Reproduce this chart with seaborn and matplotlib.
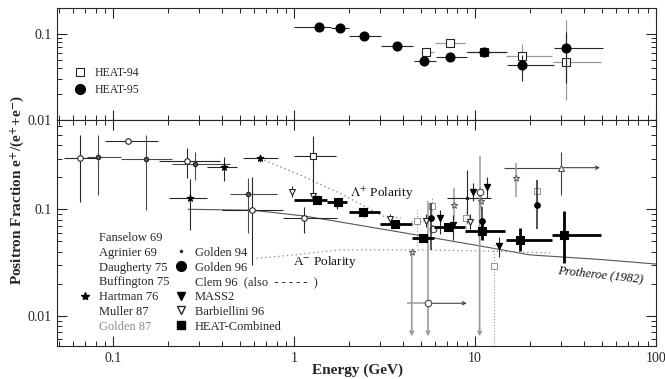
import pandas as pd
import seaborn as sns
import matplotlib.pyplot as plt
from matplotlib.lines import Line2D
from matplotlib.ticker import FixedLocator, FuncFormatter, LogLocator, NullFormatter

# rows: [energy, fraction, energy_lo, energy_hi, fraction_lo, fraction_hi]
heat94 = [
    [5.37, 0.0613, 5.15, 5.94, 0.0613, 0.0613],
    [7.23, 0.0792, 6.0, 8.8, 0.0792, 0.0792],
    [11.2, 0.0623, 8.9, 14.8, 0.060, 0.065],
    [18.2, 0.0559, 14.9, 26.5, 0.046, 0.0765],
    [32.0, 0.0469, 27.0, 49.5, 0.017, 0.145],
]
heat95 = [
    [1.37, 0.1216, 1.0, 1.6, 0.1216, 0.1216],
    [1.79, 0.116, 1.6, 2.0, 0.116, 0.116],
    [2.43, 0.0948, 2.02, 3.04, 0.0948, 0.0948],
    [3.72, 0.0725, 3.04, 4.57, 0.0725, 0.0725],
    [5.25, 0.0485, 4.62, 6.07, 0.044, 0.054],
    [7.26, 0.0545, 6.07, 9.0, 0.051, 0.058],
    [11.2, 0.0623, 9.0, 15.0, 0.058, 0.066],
    [18.2, 0.0436, 15.0, 27.4, 0.028, 0.057],
    [32.0, 0.0693, 27.4, 51.0, 0.027, 0.106],
]

fanselow69 = [
    [0.066, 0.305, 0.0535, 0.082, 0.118, 0.499],
    [0.121, 0.438, 0.0897, 0.177, 0.41, 0.47],
    [0.256, 0.284, 0.179, 0.392, 0.196, 0.374],
    [0.584, 0.098, 0.40, 0.87, 0.030, 0.202],
    [1.136, 0.0823, 0.873, 1.73, 0.0595, 0.106],
]
daugherty75 = [
    [0.0823, 0.307, 0.072, 0.11, 0.136, 0.499],
    [0.153, 0.295, 0.11, 0.212, 0.0985, 0.499],
    [0.285, 0.266, 0.212, 0.443, 0.188, 0.347],
    [0.559, 0.139, 0.44, 0.803, 0.06, 0.196],
]
agrinier69 = [
    [1.27, 0.317, 1.0, 1.71, 0.136, 0.488],
]
buffington75 = [
    [29.8, 0.246, 14.5, 29.8, 0.136, 0.348],
]
hartman76 = [
    [0.265, 0.127, 0.203, 0.33, 0.064, 0.191],
    [0.409, 0.248, 0.33, 0.485, 0.186, 0.308],
    [0.649, 0.301, 0.525, 0.819, 0.28, 0.32],
]
muller87 = [
    [5.5, 0.0131, 4.19, 5.5, 0.0131, 0.12],
    [5.88, 0.0653, 5.88, 5.88, 0.060, 0.071],
    [10.6, 0.146, 10.6, 10.6, 0.146, 0.32],
]
golden87 = [
    [4.47, 0.0397, 4.47, 4.47, 0.0397, 0.0397],
    [7.67, 0.110, 7.67, 7.67, 0.079, 0.159],
    [10.8, 0.120, 10.8, 10.8, 0.10, 0.14],
    [16.9, 0.198, 16.9, 16.9, 0.13, 0.27],
]
golden94 = [
    [9.0, 0.128, 7.0, 12.3, 0.074, 0.234],
]
golden96 = [
    [5.71, 0.0823, 5.71, 5.71, 0.0415, 0.115],
    [10.9, 0.078, 10.9, 10.9, 0.058, 0.105],
    [22.0, 0.110, 22.0, 22.0, 0.065, 0.188],
]
clem96 = [
    [4.8, 0.0782, 4.4, 5.2, 0.045, 0.098],
    [5.75, 0.107, 5.5, 6.0, 0.08, 0.13],
    [8.9, 0.082, 8.6, 9.3, 0.06, 0.10],
    [12.7, 0.0292, 12.7, 12.7, 0.0052, 0.048],
    [21.9, 0.148, 21.9, 21.9, 0.12, 0.19],
]
mass2 = [
    [6.4, 0.0823, 6.4, 6.4, 0.058, 0.098],
    [7.6, 0.0712, 7.6, 7.6, 0.052, 0.088],
    [9.7, 0.146, 9.7, 9.7, 0.12, 0.175],
    [11.7, 0.163, 11.7, 11.7, 0.128, 0.20],
    [13.5, 0.0452, 13.5, 13.5, 0.036, 0.055],
]
barbiellini96 = [
    [0.97, 0.146, 0.97, 0.97, 0.13, 0.165],
    [1.28, 0.133, 1.28, 1.28, 0.12, 0.15],
    [1.72, 0.112, 1.72, 1.72, 0.10, 0.125],
    [2.42, 0.0917, 2.42, 2.42, 0.085, 0.10],
    [3.39, 0.0806, 3.39, 3.39, 0.074, 0.09],
    [5.34, 0.0775, 5.34, 5.34, 0.068, 0.09],
    [9.38, 0.0765, 9.38, 9.38, 0.065, 0.09],
]
heat_combined = [
    [1.335, 0.121, 1.0, 1.52, 0.113, 0.13],
    [1.75, 0.116, 1.52, 1.95, 0.109, 0.124],
    [2.4, 0.094, 2.0, 2.98, 0.088, 0.10],
    [3.6, 0.073, 2.98, 4.46, 0.068, 0.078],
    [5.13, 0.0534, 4.46, 5.94, 0.049, 0.058],
    [7.13, 0.0686, 5.94, 8.8, 0.063, 0.075],
    [10.9, 0.0626, 8.8, 14.6, 0.052, 0.075],
    [17.7, 0.0515, 14.8, 26.5, 0.0408, 0.0663],
    [31.0, 0.0574, 26.5, 49.5, 0.0315, 0.097],
]
# limits drawn as arrows: [energy, fraction_from, fraction_to] and [fraction, energy_from, energy_to]
down_arrows = [[4.47, 0.0397, 0.0064], [5.5, 0.0131, 0.0064], [10.6, 0.146, 0.0064]]
right_arrows = [[0.0131, 5.5, 9.0], [0.246, 29.8, 49.0]]

# model curves
protheroe_e = [0.26, 0.59, 1.14, 1.8, 3.85, 10.1, 20.1, 49.0, 100.0]
protheroe_f = [0.100, 0.098, 0.0865, 0.076, 0.061, 0.046, 0.0373, 0.0338, 0.0306]
lam_plus_e = [0.65, 1.08, 1.8, 3.1, 3.9]
lam_plus_f = [0.30, 0.21, 0.141, 0.0865, 0.083]
lam_minus_e = [0.62, 1.0, 1.8, 4.4, 10.6, 26.0]
lam_minus_f = [0.0346, 0.0373, 0.0416, 0.0416, 0.0407, 0.0389]

cols = ['e', 'f', 'e_lo', 'e_hi', 'f_lo', 'f_hi']
DARK = '#262626'
GRAY = '#9a9a9a'

sns.set_style('ticks')
plt.rcParams['font.family'] = ['Liberation Serif', 'DejaVu Serif']
plt.rcParams['mathtext.fontset'] = 'stix'
plt.rcParams['axes.linewidth'] = 0.8


def draw_set(ax, rows, marker, size, face, edge, ecolor, elw=0.8, ls='-', z=3):
    df = pd.DataFrame(rows, columns=cols)
    eb = ax.errorbar(df.e, df.f, xerr=[df.e - df.e_lo, df.e_hi - df.e],
                     yerr=[df.f - df.f_lo, df.f_hi - df.f], fmt='none',
                     ecolor=ecolor, elinewidth=elw, capsize=0, zorder=z)
    for lc in eb[2]:
        lc.set_linestyle(ls)
    if marker is not None:
        sns.scatterplot(data=df, x='e', y='f', marker=marker, s=size, color=face,
                        edgecolor=edge, linewidth=0.8, ax=ax, zorder=z + 1, legend=False)


fig = plt.figure(figsize=(6.65, 3.79), dpi=100)
ax_top = fig.add_axes([0.0857, 0.6834, 0.9008, 0.2955])
ax_bot = fig.add_axes([0.0857, 0.0871, 0.9008, 0.5963])

for ax in (ax_top, ax_bot):
    ax.set_xscale('log')
    ax.set_yscale('log')
    ax.set_xlim(0.049, 100)
    ax.tick_params(which='both', direction='in', top=True, right=True, colors=DARK,
                   labelsize=10, pad=4)
    ax.tick_params(which='major', length=7, width=0.8)
    ax.tick_params(which='minor', length=3.5, width=0.7)
    ax.yaxis.set_major_locator(FixedLocator([0.01, 0.1]))
    ax.yaxis.set_minor_locator(LogLocator(base=10, subs=range(2, 10)))
    ax.yaxis.set_minor_formatter(NullFormatter())
    ax.yaxis.set_major_formatter(FuncFormatter(lambda v, _: f'{v:g}'))
    ax.xaxis.set_major_locator(FixedLocator([0.1, 1, 10, 100]))
    ax.xaxis.set_minor_locator(LogLocator(base=10, subs=range(2, 10)))
    ax.xaxis.set_minor_formatter(NullFormatter())
    ax.xaxis.set_major_formatter(FuncFormatter(lambda v, _: f'{v:g}'))
    ax.set_xlabel('')
    for s in ax.spines.values():
        s.set_color(DARK)

ax_top.set_ylim(0.01, 0.2)
ax_top.tick_params(labelbottom=False)
ax_bot.set_ylim(0.0052, 0.69)

# top panel
draw_set(ax_top, heat94, 's', 34, 'white', DARK, GRAY, elw=0.9)
draw_set(ax_top, heat95, 'o', 42, 'black', 'black', DARK, elw=0.8, z=5)
ax_top.set_ylabel('')
top_handles = [
    Line2D([], [], ls='none', marker='s', ms=6, mfc='white', mec=DARK, mew=0.8),
    Line2D([], [], ls='none', marker='o', ms=7, mfc='black', mec='black'),
]
ax_top.legend(top_handles, ['HEAT-94', 'HEAT-95'], loc='upper left',
              bbox_to_anchor=(0.028, 0.47), frameon=False, fontsize=8.5,
              handlelength=1.0, handletextpad=0.8, labelspacing=0.4,
              borderpad=0, borderaxespad=0)

# bottom panel curves
sns.lineplot(x=protheroe_e, y=protheroe_f, color='#555555', lw=0.8, ax=ax_bot, zorder=2)
sns.lineplot(x=lam_plus_e, y=lam_plus_f, color='#777777', lw=0.9, ls=(0, (1, 2.5)), ax=ax_bot, zorder=2)
sns.lineplot(x=lam_minus_e, y=lam_minus_f, color='#888888', lw=0.9, ls=(0, (1, 2.5)), ax=ax_bot, zorder=2)

# bottom panel data
draw_set(ax_bot, fanselow69, 'o', 16, 'white', DARK, DARK)
draw_set(ax_bot, daugherty75, 'o', 10, '#555555', DARK, '#4a4a4a')
draw_set(ax_bot, agrinier69, 's', 22, 'white', DARK, DARK)
draw_set(ax_bot, buffington75, '^', 18, 'white', '#555555', '#444444')
draw_set(ax_bot, hartman76, '*', 24, 'black', 'black', DARK)
draw_set(ax_bot, muller87, 'o', 22, 'white', '#444444', GRAY, elw=1.1)
draw_set(ax_bot, golden87, '*', 22, 'white', '#666666', GRAY, elw=1.1)
draw_set(ax_bot, golden94, '.', 14, DARK, DARK, DARK)
draw_set(ax_bot, clem96, 's', 18, 'white', '#999999', '#999999', ls=':')
draw_set(ax_bot, barbiellini96, 'v', 18, 'white', DARK, DARK)
draw_set(ax_bot, mass2, 'v', 20, 'black', 'black', DARK, z=4)
draw_set(ax_bot, golden96, 'o', 16, 'black', 'black', DARK, elw=1.1, z=4)
draw_set(ax_bot, heat_combined, 's', 26, 'black', 'black', 'black', elw=2.0, z=5)

for e, f0, f1 in down_arrows:
    ax_bot.annotate('', xy=(e, f1), xytext=(e, f0),
                    arrowprops=dict(arrowstyle='->', color=GRAY, lw=1.2, shrinkA=0, shrinkB=0,
                                    mutation_scale=6))
for f, e0, e1 in right_arrows:
    ax_bot.annotate('', xy=(e1, f), xytext=(e0, f),
                    arrowprops=dict(arrowstyle='->', color='#444444', lw=0.8, shrinkA=0, shrinkB=0,
                                    mutation_scale=6))
ax_bot.set_ylabel('')
ax_bot.set_xlabel('')

ax_bot.text(2.04, 0.142, r'$\Lambda^{+}$ Polarity', fontsize=9.5, va='center', color='#111111')
ax_bot.text(0.988, 0.0322, r'A$^{-}$ Polarity', fontsize=9.5, va='center', color='#111111')
ax_bot.text(49.0, 0.0242, 'Protheroe (1982)', fontsize=9, style='italic', rotation=-6,
            ha='center', va='center', color='#111111')

none = dict(ls='none', marker='None')
bot_handles = [
    Line2D([], [], **none), Line2D([], [], **none), Line2D([], [], **none),
    Line2D([], [], **none),
    Line2D([], [], ls='none', marker='*', ms=6, mfc='black', mec='black'),
    Line2D([], [], **none), Line2D([], [], **none),
    Line2D([], [], **none),
    Line2D([], [], ls='none', marker='.', ms=3, mfc=DARK, mec=DARK),
    Line2D([], [], ls='none', marker='o', ms=7, mfc='black', mec='black'),
    Line2D([], [], **none),
    Line2D([], [], ls='none', marker='v', ms=6, mfc='black', mec='black'),
    Line2D([], [], ls='none', marker='v', ms=6, mfc='white', mec=DARK, mew=1.0),
    Line2D([], [], ls='none', marker='s', ms=6, mfc='black', mec='black'),
]
bot_labels = ['Fanselow 69', 'Agrinier 69', 'Daugherty 75', 'Buffington 75', 'Hartman 76',
              'Muller 87', 'Golden 87', ' ', 'Golden 94', 'Golden 96',
              'Clem 96  (also  - - - - -  )', 'MASS2', 'Barbiellini 96', 'HEAT-Combined']
leg = ax_bot.legend(bot_handles, bot_labels, ncol=2, loc='upper left',
                    bbox_to_anchor=(0.037, 0.504), frameon=False, fontsize=9,
                    handlelength=1.0, handletextpad=0.6, labelspacing=0.22,
                    columnspacing=0.4, borderpad=0, borderaxespad=0)
leg.get_texts()[6].set_color('#8a8a8a')

fig.text(0.027, 0.5, r'Positron Fraction e$^{\mathbf{+}}$/(e$^{\mathbf{+}}$+e$^{\mathbf{-}}$)',
         rotation=90, ha='center', va='center', fontsize=11, fontweight='bold')
fig.text(0.538, 0.024, 'Energy (GeV)', ha='center', va='center', fontsize=11, fontweight='bold')

fig.savefig('out.png', dpi=100)
